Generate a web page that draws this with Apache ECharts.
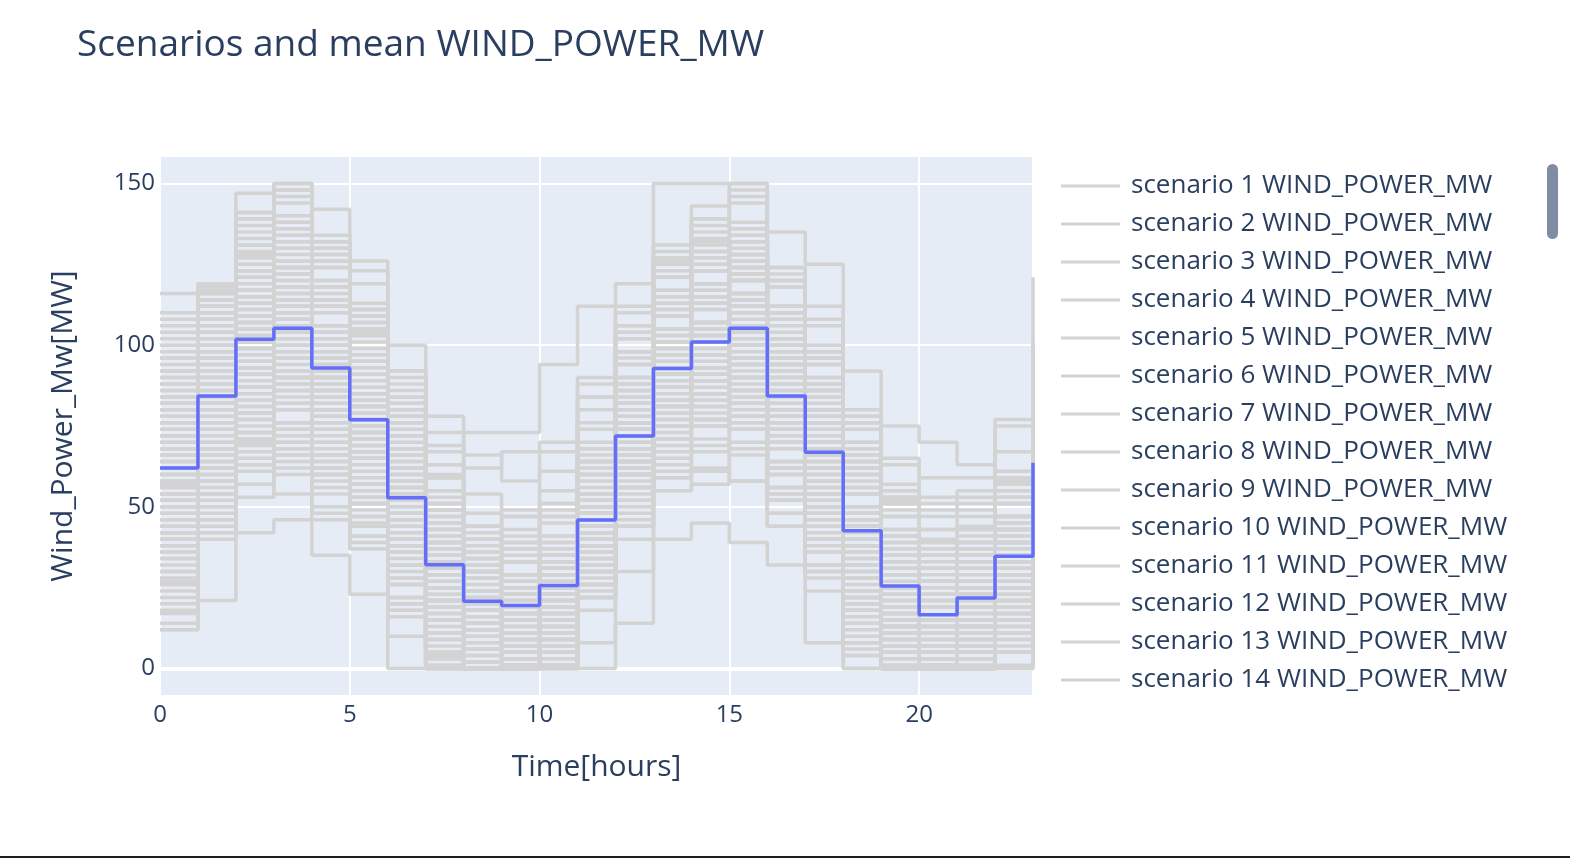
<!DOCTYPE html>
<html>
<head>
<meta charset="utf-8">
<script src="https://cdn.jsdelivr.net/npm/echarts@6/dist/echarts.min.js"></script>
<style>
html,body{margin:0;padding:0;background:#fff;}
#chart{width:1570px;height:858px;}
</style>
</head>
<body>
<div id="chart"></div>
<script>
const hours = [0,1,2,3,4,5,6,7,8,9,10,11,12,13,14,15,16,17,18,19,20,21,22,23];

const meanValues = [62,84.3,101.8,105.2,92.9,76.9,52.8,32.1,20.8,19.5,25.7,45.9,71.9,92.8,101,105.2,84.3,66.9,42.6,25.5,16.6,21.8,34.7,63.6];

const scenarioValues = [
[72,98,109,108,92,73,44,27,20,23,33,50,72,87,91,98,84,72,50,35,19,19,29,67],
[42,68,79,86,80,69,38,11,0,1,11,40,74,99,113,112,98,76,44,19,3,13,33,57],
[92,110,123,132,126,107,76,49,30,33,45,74,98,113,117,126,112,90,58,33,27,37,57,93],
[57,82,105,112,94,71,40,21,14,17,17,34,56,81,95,104,90,68,36,13,9,21,41,69],
[80,96,107,104,86,65,34,15,6,9,9,26,48,63,77,86,72,60,40,17,3,15,35,73],
[27,54,77,76,60,51,32,15,6,11,23,52,76,91,93,90,74,50,28,13,7,11,21,47],
[116,119,147,150,142,126,100,78,66,58,70,88,104,126,132,128,112,96,70,52,40,44,58,90],
[64,90,113,122,104,83,62,33,14,9,19,48,82,109,123,122,96,72,40,15,7,19,39,77],
[50,66,87,96,90,81,62,35,28,33,35,52,74,89,91,88,62,48,28,15,11,23,33,59],
[86,104,127,136,130,109,78,59,40,33,33,50,84,111,125,134,120,96,64,39,23,23,31,57],
[17,44,67,64,46,37,18,1,0,0,11,28,50,65,67,76,62,38,6,0,0,1,21,47],
[62,80,93,100,92,81,60,41,24,19,21,40,64,81,93,100,84,70,48,33,27,29,39,67],
[102,118,141,148,130,109,78,49,30,23,23,40,74,101,115,124,110,98,78,65,49,49,57,83],
[46,74,97,106,88,67,36,7,0,5,17,46,80,95,97,94,68,56,36,23,19,19,27,53],
[68,94,117,114,96,75,56,39,32,37,49,66,88,103,105,102,76,52,32,19,15,27,47,85],
[34,62,73,70,64,55,36,19,12,5,5,22,44,71,85,94,80,68,36,11,0,7,27,65],
[76,92,103,100,82,73,54,37,18,11,11,40,74,101,115,112,86,62,30,5,1,13,33,71],
[54,70,81,90,84,75,44,15,0,0,1,30,64,91,105,114,88,64,32,7,3,15,35,73],
[110,114,137,146,128,107,76,47,28,21,21,50,84,111,125,134,120,108,76,51,35,35,43,69],
[40,58,71,68,62,53,22,5,0,3,15,44,66,81,83,80,54,30,10,0,0,5,25,63],
[82,110,121,118,112,103,84,67,48,41,41,58,80,95,97,106,92,80,60,47,43,43,51,77],
[60,88,99,96,78,57,38,21,14,19,31,60,94,121,123,120,94,70,38,13,0,9,29,67],
[12,21,42,46,35,23,0,0,0,0,0,8,30,55,62,58,44,30,8,0,0,0,0,20],
[96,112,123,120,102,81,50,21,2,7,19,48,82,109,123,132,118,106,74,49,33,33,41,67],
[30,46,57,66,60,51,32,3,0,0,1,30,64,79,81,78,52,40,20,7,3,15,35,61],
[70,86,97,106,100,91,72,43,24,17,17,34,56,71,85,94,80,68,48,35,31,31,39,65],
[52,80,103,112,106,97,78,49,30,23,23,40,62,77,79,76,62,50,30,17,13,25,45,83],
[88,116,139,136,118,97,66,37,18,11,11,40,74,101,115,124,110,86,54,29,13,13,21,47],
[22,50,73,82,76,67,48,31,12,5,5,22,44,59,61,70,56,44,24,11,7,19,39,77],
[74,102,125,134,116,95,64,35,16,9,9,26,60,87,101,110,96,84,64,51,35,35,43,69],
[44,72,83,80,74,65,46,29,22,27,39,68,90,105,107,104,78,54,22,0,0,5,25,63],
[66,82,93,90,84,75,56,39,32,25,25,42,64,79,81,90,76,64,44,31,27,39,59,97],
[36,64,87,96,90,81,62,45,38,43,55,84,106,121,123,120,94,70,38,13,0,0,5,31],
[106,116,127,124,106,85,54,25,18,23,35,64,98,125,139,148,122,98,66,41,25,25,33,59],
[56,72,95,104,98,77,46,17,0,3,15,44,78,105,107,104,78,54,22,9,5,17,37,75],
[78,94,117,126,120,111,92,63,44,37,37,54,76,91,93,90,76,64,44,31,27,27,35,61],
[24,52,63,60,54,45,26,9,2,7,19,48,82,97,99,96,70,46,14,1,0,9,29,67],
[84,100,111,108,90,69,38,9,2,7,19,48,82,109,123,120,94,70,38,13,0,0,17,55],
[48,76,99,108,102,93,62,33,14,7,7,24,46,61,75,84,70,58,38,25,21,33,53,91],
[64,92,115,112,94,73,42,25,18,23,35,64,98,113,115,112,86,62,30,17,13,25,45,71],
[92,108,128,138,124,104,82,60,73,73,94,112,119,150,150,150,135,125,92,75,70,63,77,121],
[38,54,77,86,80,71,52,35,28,21,21,38,60,75,77,74,48,36,16,3,0,11,31,69],
[98,114,125,134,128,119,88,59,40,33,33,50,72,87,89,86,72,60,40,27,23,35,55,93],
[32,60,83,92,74,53,22,5,0,3,15,44,78,105,119,116,90,66,34,9,0,0,1,39],
[72,88,99,96,78,57,26,9,2,7,19,48,82,109,123,132,118,94,62,37,21,21,29,55],
[58,86,109,118,112,103,84,55,36,29,29,46,68,83,85,94,80,68,48,35,31,43,51,77],
[90,106,117,114,96,87,68,51,44,49,61,90,112,127,129,126,100,76,44,19,3,3,11,37],
[14,42,65,74,68,47,16,0,0,0,9,38,72,87,89,86,60,36,4,0,0,0,19,57],
[80,108,131,140,134,113,82,53,34,27,27,44,66,81,83,92,78,66,46,33,29,41,61,99],
[46,62,73,82,76,67,48,31,24,29,41,70,104,131,133,130,104,80,48,23,7,7,15,41],
[68,84,95,92,86,77,58,41,34,39,51,68,90,105,107,104,78,54,22,0,0,5,25,63],
[42,70,93,102,96,87,68,39,20,13,13,30,52,79,93,102,88,76,56,43,39,39,47,73],
[94,110,121,130,124,103,72,43,24,17,17,34,56,83,97,106,92,80,60,47,43,55,75,101],
[26,54,77,86,80,71,40,11,0,0,0,26,60,87,101,110,84,60,28,3,0,0,7,45],
[76,104,127,124,106,85,54,25,6,0,11,40,74,101,115,124,110,98,78,53,37,37,45,71],
[52,68,91,100,94,85,66,49,42,47,47,64,86,101,103,100,74,50,18,5,1,13,33,71],
[86,102,113,110,92,71,40,23,16,21,33,62,96,123,137,146,120,96,64,39,23,23,31,57],
[60,76,87,84,66,57,38,21,14,19,31,60,82,97,99,96,70,46,14,0,0,0,17,55],
[104,119,131,128,110,89,58,29,10,3,3,32,66,93,107,116,102,90,70,57,53,53,61,87],
[34,50,61,70,64,55,36,19,12,17,29,46,68,83,85,82,56,32,0,0,0,0,15,53],
[70,98,121,118,100,79,48,19,0,0,0,22,56,83,97,106,92,80,60,47,31,31,39,65],
[50,78,101,110,104,95,76,59,40,33,33,50,72,87,89,86,60,48,28,15,11,23,43,81],
[82,98,109,106,100,91,72,55,36,29,29,46,68,83,85,82,56,44,24,11,7,19,39,77],
[20,48,71,80,62,41,10,0,0,0,3,32,66,93,107,116,102,78,46,21,5,5,13,39],
[66,94,117,126,120,99,68,39,20,13,13,30,52,67,69,78,64,52,32,19,15,27,47,85],
[54,82,105,102,84,63,32,3,0,1,13,42,76,103,117,126,112,88,56,31,15,15,23,49],
[92,108,119,116,98,77,46,17,10,15,27,56,90,117,131,128,102,78,46,21,5,5,13,39],
[40,58,70,74,60,44,20,4,0,0,0,0,14,40,45,39,32,8,0,0,0,0,0,10],
[78,106,129,138,132,123,92,63,44,37,37,54,76,91,93,90,64,40,20,7,3,15,35,73],
[40,68,91,88,70,49,30,13,6,11,23,52,86,113,127,136,110,86,54,29,13,13,21,47],
[62,90,113,122,104,83,52,23,4,0,0,26,60,87,101,110,96,84,64,51,47,47,55,81],
[28,56,79,76,58,37,18,1,0,0,11,40,74,101,103,100,74,50,18,0,0,0,9,47],
[100,116,139,148,130,109,78,49,30,23,23,40,62,89,103,112,98,86,66,53,37,37,45,71],
[56,84,107,116,110,101,70,41,22,15,15,32,54,69,71,68,54,42,22,9,5,17,37,75],
[74,90,101,98,80,59,28,0,0,0,9,38,72,99,113,122,108,96,76,63,59,59,67,93],
[44,60,71,68,50,41,22,5,0,3,15,44,78,105,119,128,102,78,46,21,5,5,13,39],
[88,104,115,124,118,109,90,73,54,47,47,64,86,101,103,100,74,50,18,5,1,13,33,71],
[36,64,75,72,66,57,38,21,14,19,31,60,94,109,111,108,82,58,26,1,0,0,5,43],
[64,80,91,88,82,73,54,37,30,35,47,76,110,125,127,124,98,74,42,17,1,1,9,35],
[18,46,57,54,48,39,20,3,0,1,13,42,76,91,93,90,64,40,8,0,0,0,11,49],
[72,100,123,132,114,93,62,33,14,7,19,48,82,109,123,132,106,82,50,25,9,9,17,43],
[48,64,87,96,78,57,26,0,0,0,7,36,70,97,111,120,94,70,38,13,0,0,5,31],
[84,112,135,144,126,105,74,45,26,19,19,36,58,73,75,84,70,58,38,25,21,33,53,91],
[58,74,85,94,88,79,60,43,36,29,29,46,68,83,85,82,68,56,36,23,19,31,51,89],
[108,117,141,150,132,111,80,51,32,25,25,54,88,115,129,138,124,112,80,55,39,39,47,73],
[30,58,81,90,84,75,56,27,8,1,1,18,40,55,57,66,52,40,20,7,3,15,35,73],
[80,96,107,104,86,65,46,29,22,27,39,68,102,129,143,150,124,100,68,43,27,27,35,61],
[42,58,69,66,60,51,32,15,8,13,25,54,88,115,129,126,100,76,44,19,3,3,11,37],
[68,96,107,104,86,77,58,41,34,39,51,80,102,117,119,116,90,66,34,9,0,5,25,63],
[26,42,53,62,56,47,28,11,4,9,21,38,60,75,77,74,48,24,4,0,0,0,19,57],
[76,92,115,124,118,109,78,49,30,23,23,40,62,77,91,100,86,74,54,41,25,25,33,59],
[52,68,79,76,70,61,42,25,18,23,35,64,98,125,139,136,110,86,54,29,13,13,21,47],
[96,112,123,120,114,105,86,69,62,67,67,84,106,121,123,120,94,70,38,13,0,0,5,31],
[38,66,89,98,92,83,64,47,28,21,21,38,60,75,77,74,60,48,28,15,11,23,43,81],
[90,117,139,148,132,111,80,51,32,25,25,42,64,79,81,78,52,28,8,0,0,3,23,61],
[12,40,63,72,66,57,38,21,14,19,31,60,94,121,135,144,118,94,62,37,21,21,29,55],
[66,82,93,90,72,51,20,0,0,0,1,30,64,91,105,114,100,88,68,55,51,51,59,85],
[50,78,101,110,92,71,40,11,0,0,9,38,72,99,113,122,108,96,76,51,35,35,43,69],
[82,110,133,130,112,91,60,31,12,5,5,22,44,59,61,58,44,32,12,0,0,7,27,65],
[60,88,111,108,90,69,38,21,14,19,31,48,70,85,87,96,82,70,50,25,9,9,17,55]
];

const scenarioNames = scenarioValues.map((_, i) => 'scenario ' + (i + 1) + ' WIND_POWER_MW');
const meanName = 'mean WIND_POWER_MW';
const legendVisibleCount = 14;

const FONT = '"Open Sans", Verdana, Arial, sans-serif';
const TEXT = '#2a3f5f';
const GRAY = '#d3d3d3';
const BLUE = '#636efa';

const series = scenarioValues.map((vals, i) => ({
  name: scenarioNames[i],
  type: 'line',
  step: 'end',
  data: hours.map((h, k) => [h, vals[k]]),
  showSymbol: false,
  symbol: 'none',
  silent: true,
  z: 2,
  itemStyle: { color: GRAY },
  lineStyle: { color: GRAY, width: 3.5 },
  emphasis: { disabled: true }
}));

series.push({
  name: meanName,
  type: 'line',
  step: 'end',
  data: hours.map((h, k) => [h, meanValues[k]]),
  showSymbol: false,
  symbol: 'none',
  silent: true,
  z: 4,
  itemStyle: { color: BLUE },
  lineStyle: { color: BLUE, width: 3.5 },
  emphasis: { disabled: true }
});

series.push({
  name: '_zeroline',
  type: 'line',
  data: [],
  silent: true,
  markLine: {
    silent: true,
    symbol: 'none',
    z: 1,
    label: { show: false },
    lineStyle: { color: '#ffffff', width: 4, type: 'solid' },
    data: [{ yAxis: 0 }],
    animation: false
  }
});

const chart = echarts.init(document.getElementById('chart'), null, { renderer: 'canvas' });
chart.setOption({
  animation: false,
  backgroundColor: '#ffffff',
  textStyle: { fontFamily: FONT },
  title: {
    text: 'Scenarios and mean WIND_POWER_MW',
    left: 77,
    top: 27,
    padding: 0,
    textStyle: { fontFamily: FONT, fontSize: 37, fontWeight: 'normal', color: TEXT }
  },
  legend: {
    orient: 'vertical',
    left: 1061,
    top: 173,
    padding: 0,
    itemGap: 12,
    itemWidth: 59,
    itemHeight: 3,
    icon: 'rect',
    selectedMode: false,
    data: scenarioNames.slice(0, legendVisibleCount),
    textStyle: { fontFamily: FONT, fontSize: 26, lineHeight: 26, color: TEXT, padding: [0, 0, 0, 6] }
  },
  grid: {
    left: 160,
    right: 537,
    top: 156,
    bottom: 162,
    show: true,
    backgroundColor: '#e5ecf6',
    borderWidth: 0,
    containLabel: false
  },
  xAxis: {
    type: 'value',
    min: 0,
    max: 23,
    interval: 5,
    name: 'Time[hours]',
    nameLocation: 'middle',
    nameGap: 56,
    nameTextStyle: { fontFamily: FONT, fontSize: 30, color: TEXT },
    axisLine: { show: false },
    axisTick: { show: false },
    axisLabel: { fontFamily: FONT, fontSize: 24, color: TEXT, margin: 7, showMaxLabel: false },
    splitLine: { show: true, lineStyle: { color: '#ffffff', width: 2 } }
  },
  yAxis: {
    type: 'value',
    min: -8.5,
    max: 158.5,
    splitNumber: 3,
    name: 'Wind_Power_Mw[MW]',
    nameLocation: 'middle',
    nameGap: 82,
    nameRotate: 90,
    nameTextStyle: { fontFamily: FONT, fontSize: 30, color: TEXT },
    axisLine: { show: false },
    axisTick: { show: false },
    axisLabel: { fontFamily: FONT, fontSize: 24, color: TEXT, margin: 5, showMinLabel: false, showMaxLabel: false },
    splitLine: { show: true, lineStyle: { color: '#ffffff', width: 2 } }
  },
  graphic: [
    {
      type: 'rect',
      shape: { x: 1547, y: 164, width: 11, height: 75, r: 5.5 },
      style: { fill: '#808ba4' },
      silent: true
    },
    {
      type: 'rect',
      shape: { x: 0, y: 856, width: 1570, height: 2 },
      style: { fill: '#1e1e1e' },
      silent: true
    }
  ],
  series: series
});
</script>
</body>
</html>
